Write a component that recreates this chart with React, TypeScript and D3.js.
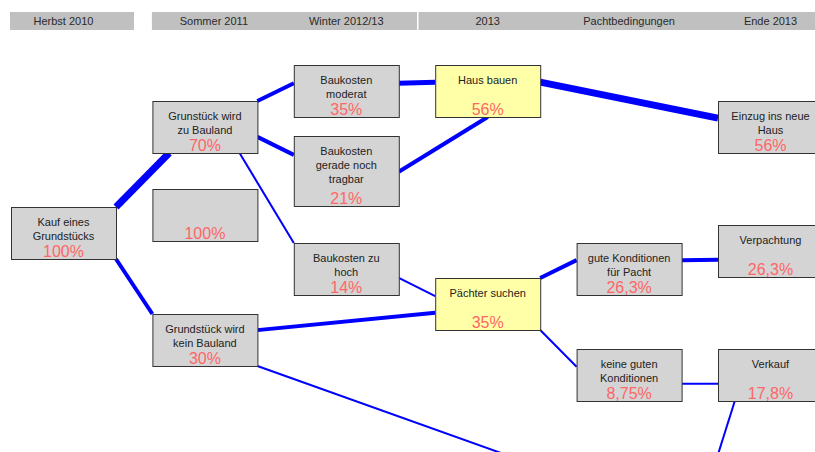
import React from "react";
import * as d3 from "d3";

// ---------- data ----------
const headerLabels = ["Herbst 2010", "Sommer 2011", "Winter 2012/13", "2013", "Pachtbedingungen", "Ende 2013"];
const headerColumns = [0, 1, 2, 3, 4, 5];
const headerGroups = [[0, 0], [1, 2], [3, 5]]; // column ranges of the grey header bars

const nodeIds = ["kauf", "bauland", "leer", "keinBauland", "moderat", "tragbar", "zuHoch", "haus", "paechter", "gute", "keine", "einzug", "verpachtung", "verkauf", "untenA", "untenB"];
const nodeLabels: string[][] = [
  ["Kauf eines", "Grundstücks"],
  ["Grunstück wird", "zu Bauland"],
  [],
  ["Grundstück wird", "kein Bauland"],
  ["Baukosten", "moderat"],
  ["Baukosten", "gerade noch", "tragbar"],
  ["Baukosten zu", "hoch"],
  ["Haus bauen"],
  ["Pächter suchen"],
  ["gute Konditionen", "für Pacht"],
  ["keine guten", "Konditionen"],
  ["Einzug ins neue", "Haus"],
  ["Verpachtung"],
  ["Verkauf"],
  [],
  [],
];
const nodeValues = ["100%", "70%", "100%", "30%", "35%", "21%", "14%", "56%", "35%", "26,3%", "8,75%", "56%", "26,3%", "17,8%", "", ""];
const nodeKinds = ["grey", "grey", "grey", "grey", "grey", "grey", "grey", "yellow", "yellow", "grey", "grey", "grey", "grey", "grey", "grey", "grey"];

// edges: source, target, weight (line thickness)
const edgeSources = ["kauf", "kauf", "bauland", "bauland", "bauland", "moderat", "tragbar", "haus", "zuHoch", "keinBauland", "keinBauland", "paechter", "paechter", "gute", "keine", "verkauf"];
const edgeTargets = ["bauland", "keinBauland", "moderat", "tragbar", "zuHoch", "haus", "haus", "einzug", "paechter", "paechter", "untenA", "gute", "keine", "verpachtung", "verkauf", "untenB"];
const edgeWeights = [7, 4, 4, 4, 2, 5, 4, 7, 2, 4, 2, 4, 2, 4, 2, 2];

// ---------- layout (positions, not data) ----------
const nodeColumn = [0, 1, 1, 1, 2, 2, 2, 3, 3, 4, 4, 5, 5, 5, 4, 4];
const nodeTop = [207, 101, 189, 314, 65, 136, 243, 65, 278, 243, 349, 101, 225, 349, 480, 570];
const nodeHeight = [52, 52, 52, 52, 52, 70, 52, 52, 52, 52, 52, 52, 52, 52, 52, 52];
// anchor fractions on box [fx, fy] for source and target
const edgeSrcAnchor: [number, number][] = [
  [1, 0], [1, 1], [1, 0], [1, 0.69], [0.83, 1], [1, 0.35], [1, 0.51], [1, 0.33],
  [1, 0.67], [1, 0.31], [1, 1], [1, 0], [1, 1], [1, 0.33], [1, 0.67], [0.16, 1],
];
const edgeTgtAnchor: [number, number][] = [
  [0.16, 1], [0, 0], [0, 0.35], [0, 0.27], [0, 0], [0, 0.33], [0.5, 1], [0, 0.33],
  [0, 0.35], [0, 0.67], [0, 0], [0, 0.33], [0, 0.34], [0, 0.67], [0, 0.67], [1, 0],
];

const W = 815;
const H = 452;
const BOX_W = 105;
const FONT = "'Liberation Sans', Arial, Helvetica, sans-serif";

export default function App() {
  const x = d3.scaleLinear().domain([0, 5]).range([11, 718]);
  const y = d3.scaleLinear().domain([0, H]).range([0, H]);

  const idx = new Map(nodeIds.map((id, i) => [id, i]));
  const box = (i: number) => ({
    x0: x(nodeColumn[i]),
    y0: y(nodeTop[i]),
    w: BOX_W,
    h: y(nodeTop[i] + nodeHeight[i]) - y(nodeTop[i]),
  });
  const pt = (i: number, a: [number, number]) => {
    const b = box(i);
    return [b.x0 + a[0] * b.w, b.y0 + a[1] * b.h] as [number, number];
  };
  const line = d3.line();

  // header bar extents: first bar stands alone, the others touch with a thin gap
  const barLeft = (g: number) => (g === 0 ? x(0) - 1 : g === 1 ? x(1) - 0.5 : (x(2) + x(3)) / 2 + 54);
  const barRight = (g: number) => (g === 0 ? x(0) + BOX_W + 18 : g === 1 ? (x(2) + x(3)) / 2 + 52.5 : W + 10);

  return (
    <svg width={W} height={H} style={{ position: "absolute", left: 0, top: 0, display: "block", background: "#fff" }} fontFamily={FONT}>
      {/* header bars */}
      {headerGroups.map((_, i) => (
        <rect key={"hb" + i} x={barLeft(i)} y={12} width={barRight(i) - barLeft(i)} height={18} fill="#c0c0c0" />
      ))}
      {headerLabels.map((t, i) => (
        <text key={"hl" + i} x={x(headerColumns[i]) + BOX_W / 2 + (i === 1 ? 9 : 0)} y={25} textAnchor="middle" fontSize={11} fill="#2a2a2a">
          {t}
        </text>
      ))}
      {/* edges */}
      {edgeSources.map((s, i) => {
        const si = idx.get(s)!;
        const ti = idx.get(edgeTargets[i])!;
        const p0 = pt(si, edgeSrcAnchor[i]);
        const p1 = pt(ti, edgeTgtAnchor[i]);
        return <path key={"e" + i} d={line([p0, p1]) || ""} stroke="#0000ff" strokeWidth={edgeWeights[i]} fill="none" />;
      })}
      {/* nodes */}
      {nodeIds.map((id, i) => {
        const b = box(i);
        const cx = b.x0 + b.w / 2;
        return (
          <g key={id}>
            <rect x={b.x0 + 0.5} y={b.y0 + 0.5} width={b.w} height={b.h} fill={nodeKinds[i] === "yellow" ? "#ffffa8" : "#d4d4d4"} stroke="#333" strokeWidth={1} />
            {nodeLabels[i].map((l, j) => (
              <text key={j} x={cx} y={b.y0 + 19 + j * 14} textAnchor="middle" fontSize={11} fill="#222">
                {l}
              </text>
            ))}
            <text x={cx} y={b.y0 + b.h - 2} textAnchor="middle" fontSize={16} fill="#ff6666">
              {nodeValues[i]}
            </text>
          </g>
        );
      })}
    </svg>
  );
}
